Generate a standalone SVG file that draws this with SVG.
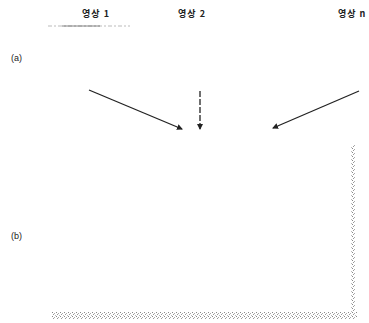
<svg xmlns="http://www.w3.org/2000/svg" width="369" height="323" viewBox="0 0 369 323">
<style>
.t{font-family:"Noto Sans CJK KR","Liberation Sans",sans-serif;font-size:9px;font-weight:bold;fill:#222;letter-spacing:1px}
.l{font-family:"Liberation Sans",sans-serif;font-size:9px;fill:#222}
.c{stroke:#222;stroke-width:1.3;fill:none}
</style>
<defs>
<marker id="ah" markerWidth="6" markerHeight="6" refX="5" refY="3" orient="auto" markerUnits="userSpaceOnUse">
<path d="M0,0 L6,3 L0,6 Z" fill="#222"/>
</marker>
<pattern id="ht" width="4" height="4" patternUnits="userSpaceOnUse">
<rect x="0" y="0" width="1" height="1" fill="#888"/>
<rect x="2" y="1" width="1" height="1" fill="#aaa"/>
<rect x="1" y="2" width="1" height="1" fill="#999"/>
<rect x="3" y="3" width="1" height="1" fill="#bbb"/>
</pattern>
</defs>
<rect width="369" height="323" fill="#fff"/>
<g id="img1"><text class="t" x="96" y="17" text-anchor="middle">영상 1</text></g>
<g id="img2"><text class="t" x="192" y="17" text-anchor="middle">영상 2</text></g>
<g id="imgn"><text class="t" x="338" y="17">영상 n</text></g>
<line x1="48" y1="26" x2="130" y2="26" stroke="#aaa" stroke-width="0.8" stroke-dasharray="4,2,2,2"/>
<line x1="62" y1="26" x2="100" y2="26" stroke="#666" stroke-width="0.8"/>
<g id="label-a"><text class="l" x="11" y="61">(a)</text></g>
<g id="label-b"><text class="l" x="11" y="239">(b)</text></g>
<g id="connectors">
<line class="c" x1="89" y1="90" x2="182" y2="129" marker-end="url(#ah)"/>
<line class="c" x1="200" y1="91" x2="200" y2="129" stroke-dasharray="6,2" stroke-width="0.8" marker-end="url(#ah)"/>
<line class="c" x1="359" y1="91" x2="273" y2="128" marker-end="url(#ah)"/>
</g>
<g id="frame">
<rect x="351" y="145" width="4" height="170" fill="url(#ht)"/>
<rect x="52" y="312" width="305" height="7" fill="url(#ht)"/>
</g>
</svg>
